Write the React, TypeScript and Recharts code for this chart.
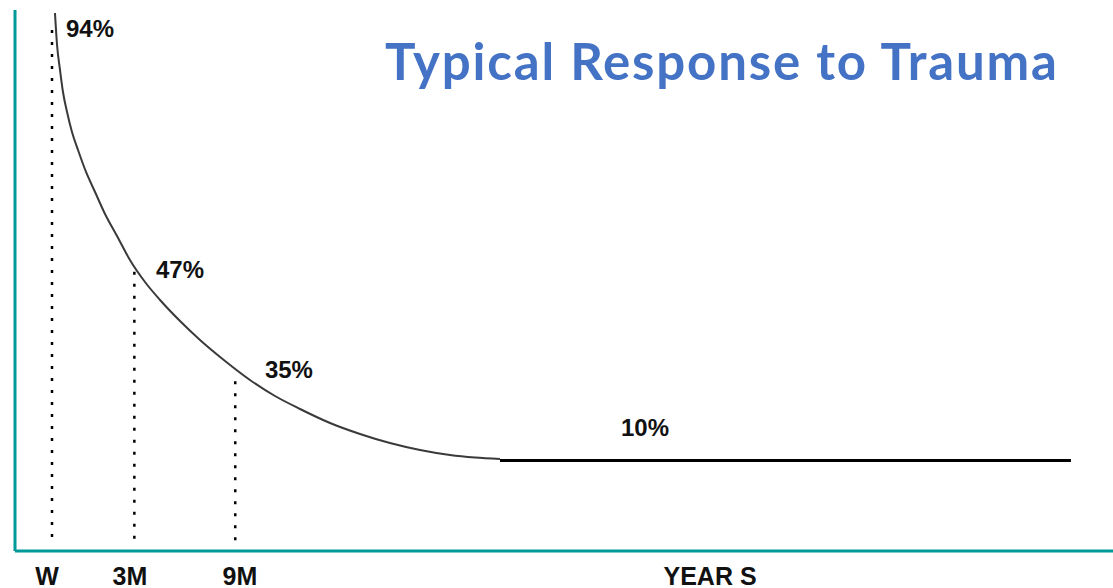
import React from 'react';
import { ComposedChart, Line, Scatter, XAxis, YAxis, ReferenceLine } from 'recharts';

// curve (x: 0-100 across the plot, y: 0-100 up the plot)
const curveX = [3.64, 3.83, 4.1, 4.37, 4.74, 5.19, 5.74, 6.47, 7.29, 8.2, 9.29, 10.47, 11.84, 13.21, 15.03, 16.85, 19.13, 21.4, 23.68, 25.96, 28.69, 31.42, 34.15, 36.89, 39.62, 41.89, 44.17];
const curveY = [99.45, 93.53, 88.91, 84.84, 81.15, 77.45, 74.12, 70.06, 66.36, 62.29, 58.23, 53.79, 49.72, 46.4, 42.51, 39.0, 35.12, 31.61, 28.65, 26.25, 23.66, 21.63, 19.96, 18.67, 17.74, 17.28, 17.01];

// long flat tail ("years")
const plateauX = [44.17, 96.17];
const plateauY = [16.73, 16.73];

// percentage annotations
const pctText = ['94%', '47%', '35%', '10%'];
const pctX = [6.83, 15.03, 24.95, 57.38];
const pctY = [95.0, 50.5, 32.0, 21.3];

// dotted time markers
const markerX = [3.37, 10.87, 20.06];
const markerTop = [96.3, 51.6, 31.4];

// x axis labels
const tickNames = ['W', '3M', '9M', 'YEAR S'];
const tickPos = [2.91, 10.47, 20.49, 63.3];

const curveData = curveX.map((x, i) => ({ x, y: curveY[i] }));
const plateauData = plateauX.map((x, i) => ({ x, y: plateauY[i] }));
const pctData = pctText.map((text, i) => ({ x: pctX[i], y: pctY[i], text }));

const TEAL = '#00999a';
const LABEL_FONT = '"Liberation Sans", Arial, sans-serif';

const XTick = (props: any) => {
  const { x, y, payload } = props;
  const idx = tickPos.indexOf(payload.value);
  return (
    <text x={x} y={y + 32} textAnchor="middle" fontSize={25} fontWeight="bold" fontFamily={LABEL_FONT} fill="#111">
      {tickNames[idx]}
    </text>
  );
};

const PctLabel = (props: any) => {
  const { cx, cy, payload } = props;
  return (
    <text x={cx} y={cy} textAnchor="middle" fontSize={24} fontWeight="bold" fontFamily={LABEL_FONT} fill="#111">
      {payload.text}
    </text>
  );
};

const App: React.FC = () => {
  return (
    <div style={{ position: 'fixed', left: 0, top: 0, width: 1113, height: 588, background: '#fff' }}>
      <ComposedChart width={1113} height={588} margin={{ top: 10, right: 0, left: 12, bottom: 0 }}>
        <XAxis
          type="number"
          dataKey="x"
          domain={[0, 100]}
          ticks={tickPos}
          tick={<XTick />}
          tickLine={false}
          tickSize={0}
          height={37}
          axisLine={{ stroke: TEAL, strokeWidth: 3 }}
          allowDataOverflow
        />
        <YAxis
          type="number"
          dataKey="y"
          domain={[0, 100]}
          width={3}
          tick={false}
          tickLine={false}
          axisLine={{ stroke: TEAL, strokeWidth: 3 }}
          allowDataOverflow
        />
        {markerX.map((mx, i) => (
          <ReferenceLine
            key={i}
            segment={[{ x: mx, y: markerTop[i] }, { x: mx, y: 1 }]}
            stroke="#000"
            strokeWidth={2.5}
            strokeDasharray="3 9"
          />
        ))}
        <Line
          data={curveData}
          dataKey="y"
          type="monotone"
          stroke="#3a3a3a"
          strokeWidth={2}
          dot={false}
          isAnimationActive={false}
        />
        <Line
          data={plateauData}
          dataKey="y"
          type="linear"
          stroke="#000"
          strokeWidth={3}
          dot={false}
          isAnimationActive={false}
        />
        <Scatter data={pctData} dataKey="y" shape={<PctLabel />} isAnimationActive={false} />
        <text
          x={385}
          y={80}
          fontSize={51}
          fontWeight="bold"
          fontFamily="Lato, 'Open Sans', sans-serif"
          fill="#4472C4"
          textLength={672}
        >
          Typical Response to Trauma
        </text>
      </ComposedChart>
    </div>
  );
};

export default App;
